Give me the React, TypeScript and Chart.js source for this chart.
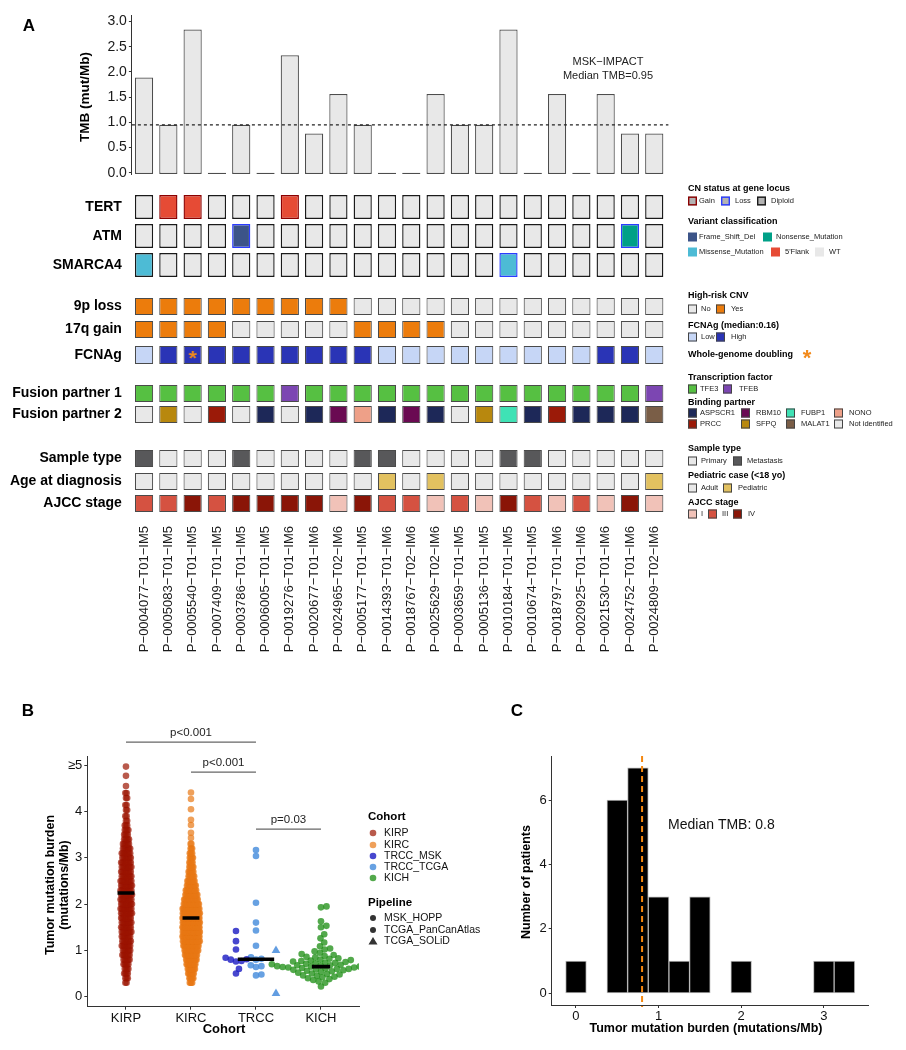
import React, { useEffect, useRef } from "react";
import { Chart, registerables } from "chart.js";

Chart.register(...registerables);
const FONT = "'Liberation Sans', Arial, Helvetica, sans-serif";
Chart.defaults.font.family = FONT;
Chart.defaults.color = "#000";

/* ================= Panel A data ================= */
const SAMPLES = [
  "P-0004077-T01-IM5", "P-0005083-T01-IM5", "P-0005540-T01-IM5", "P-0007409-T01-IM5",
  "P-0003786-T01-IM5", "P-0006005-T01-IM5", "P-0019276-T01-IM6", "P-0020677-T01-IM6",
  "P-0024965-T02-IM6", "P-0005177-T01-IM5", "P-0014393-T01-IM6", "P-0018767-T02-IM6",
  "P-0025629-T02-IM6", "P-0003659-T01-IM5", "P-0005136-T01-IM5", "P-0010184-T01-IM5",
  "P-0010674-T01-IM5", "P-0018797-T01-IM6", "P-0020925-T01-IM6", "P-0021530-T01-IM6",
  "P-0024752-T01-IM6", "P-0024809-T02-IM6",
];
const TMB = [1.89, 0.95, 2.84, 0, 0.95, 0, 2.33, 0.78, 1.56, 0.95, 0, 0, 1.56, 0.95, 0.95, 2.84, 0, 1.56, 0, 1.56, 0.78, 0.78];
const TMB_TICKS = [0, 0.5, 1, 1.5, 2, 2.5, 3];
const TMB_MEDIAN = 0.95;

const TERT_VARIANT = ["WT", "5'Flank", "5'Flank", "WT", "WT", "WT", "5'Flank", "WT", "WT", "WT", "WT", "WT", "WT", "WT", "WT", "WT", "WT", "WT", "WT", "WT", "WT", "WT"];
const TERT_CN = ["Diploid", "Gain", "Gain", "Diploid", "Diploid", "Diploid", "Gain", "Diploid", "Diploid", "Diploid", "Diploid", "Diploid", "Diploid", "Diploid", "Diploid", "Diploid", "Diploid", "Diploid", "Diploid", "Diploid", "Diploid", "Diploid"];
const ATM_VARIANT = ["WT", "WT", "WT", "WT", "Frame_Shift_Del", "WT", "WT", "WT", "WT", "WT", "WT", "WT", "WT", "WT", "WT", "WT", "WT", "WT", "WT", "WT", "Nonsense_Mutation", "WT"];
const ATM_CN = ["Diploid", "Diploid", "Diploid", "Diploid", "Loss", "Diploid", "Diploid", "Diploid", "Diploid", "Diploid", "Diploid", "Diploid", "Diploid", "Diploid", "Diploid", "Diploid", "Diploid", "Diploid", "Diploid", "Diploid", "Loss", "Diploid"];
const SMARCA4_VARIANT = ["Missense_Mutation", "WT", "WT", "WT", "WT", "WT", "WT", "WT", "WT", "WT", "WT", "WT", "WT", "WT", "WT", "Missense_Mutation", "WT", "WT", "WT", "WT", "WT", "WT"];
const SMARCA4_CN = ["Diploid", "Diploid", "Diploid", "Diploid", "Diploid", "Diploid", "Diploid", "Diploid", "Diploid", "Diploid", "Diploid", "Diploid", "Diploid", "Diploid", "Diploid", "Loss", "Diploid", "Diploid", "Diploid", "Diploid", "Diploid", "Diploid"];
const LOSS_9P = ["Yes", "Yes", "Yes", "Yes", "Yes", "Yes", "Yes", "Yes", "Yes", "No", "No", "No", "No", "No", "No", "No", "No", "No", "No", "No", "No", "No"];
const GAIN_17Q = ["Yes", "Yes", "Yes", "Yes", "No", "No", "No", "No", "No", "Yes", "Yes", "Yes", "Yes", "No", "No", "No", "No", "No", "No", "No", "No", "No"];
const FCNAG = ["Low", "High", "High", "High", "High", "High", "High", "High", "High", "High", "Low", "Low", "Low", "Low", "Low", "Low", "Low", "Low", "Low", "High", "High", "Low"];
const WGD = [false, false, true, false, false, false, false, false, false, false, false, false, false, false, false, false, false, false, false, false, false, false];
const FUSION_1 = ["TFE3", "TFE3", "TFE3", "TFE3", "TFE3", "TFE3", "TFEB", "TFE3", "TFE3", "TFE3", "TFE3", "TFE3", "TFE3", "TFE3", "TFE3", "TFE3", "TFE3", "TFE3", "TFE3", "TFE3", "TFE3", "TFEB"];
const FUSION_2 = ["Not identified", "SFPQ", "Not identified", "PRCC", "Not identified", "ASPSCR1", "Not identified", "ASPSCR1", "RBM10", "NONO", "ASPSCR1", "RBM10", "ASPSCR1", "Not identified", "SFPQ", "FUBP1", "ASPSCR1", "PRCC", "ASPSCR1", "ASPSCR1", "ASPSCR1", "MALAT1"];
const SAMPLE_TYPE = ["Metastasis", "Primary", "Primary", "Primary", "Metastasis", "Primary", "Primary", "Primary", "Primary", "Metastasis", "Metastasis", "Primary", "Primary", "Primary", "Primary", "Metastasis", "Metastasis", "Primary", "Primary", "Primary", "Primary", "Primary"];
const AGE_GROUP = ["Adult", "Adult", "Adult", "Adult", "Adult", "Adult", "Adult", "Adult", "Adult", "Adult", "Pediatric", "Adult", "Pediatric", "Adult", "Adult", "Adult", "Adult", "Adult", "Adult", "Adult", "Adult", "Pediatric"];
const AJCC = ["III", "III", "IV", "III", "IV", "IV", "IV", "IV", "I", "IV", "III", "III", "I", "III", "I", "IV", "III", "I", "III", "I", "IV", "I"];

/* colours */
const VARIANT_COLORS: any = { WT: "#e8e8e8", "5'Flank": "#e64b35", Frame_Shift_Del: "#3c5488", Nonsense_Mutation: "#00a087", Missense_Mutation: "#4dbbd5" };
const CN_BORDER: any = { Gain: "#8b0000", Loss: "#2b3cff", Diploid: "#1a1a1a" };
const YESNO_COLORS: any = { No: "#e8e8e8", Yes: "#ec7c0c" };
const FCNAG_COLORS: any = { Low: "#c6d6f6", High: "#2a34b6" };
const TF_COLORS: any = { TFE3: "#56c042", TFEB: "#7c46b2" };
const BP_COLORS: any = { ASPSCR1: "#1d2858", RBM10: "#6a0a52", FUBP1: "#3fe2b5", NONO: "#eea088", PRCC: "#9b1a08", SFPQ: "#b8880e", MALAT1: "#7a5e47", "Not identified": "#e8e8e8" };
const ST_COLORS: any = { Primary: "#e8e8e8", Metastasis: "#58585a" };
const AGE_COLORS: any = { Adult: "#e8e8e8", Pediatric: "#e2c160" };
const AJCC_COLORS: any = { I: "#f1c2b8", III: "#d55241", IV: "#8a1507" };
const CELL_BORDER = "#4a4a4a";

/* row layout (page pixel rows) */
const ROW_Y = [[195, 219], [224, 248], [253, 277], [298, 315], [321, 338], [346, 364], [385, 402], [406, 423], [450, 467], [473, 490], [495, 512]];

/* ================= Panel B data ================= */
const COHORTS = ["KIRP", "KIRC", "TRCC", "KICH"];
const KIRP_LEVELS = [0.3, 0.4, 0.5, 0.6, 0.7, 0.8, 0.9, 1.0, 1.1, 1.2, 1.3, 1.4, 1.5, 1.6, 1.7, 1.8, 1.9, 2.0, 2.1, 2.2, 2.3, 2.4, 2.5, 2.6, 2.7, 2.8, 2.9, 3.0, 3.1, 3.2, 3.3, 3.4, 3.5, 3.6, 3.7, 3.8, 3.9, 4.03, 4.14, 4.29, 4.4, 4.55, 4.77, 4.97];
const KIRP_COUNTS = [2, 3, 4, 4, 5, 6, 7, 7, 8, 8, 8, 9, 9, 9, 9, 10, 10, 10, 10, 10, 10, 10, 10, 9, 9, 9, 9, 8, 8, 7, 6, 5, 4, 4, 3, 2, 2, 2, 2, 2, 2, 1, 1, 1];
const KIRC_LEVELS = [0.3, 0.4, 0.5, 0.6, 0.7, 0.8, 0.9, 1.0, 1.1, 1.2, 1.3, 1.4, 1.5, 1.6, 1.7, 1.8, 1.9, 2.0, 2.1, 2.2, 2.3, 2.4, 2.5, 2.6, 2.7, 2.8, 2.9, 3.0, 3.1, 3.2, 3.3, 3.43, 3.54, 3.71, 3.82, 4.05, 4.27, 4.41];
const KIRC_COUNTS = [4, 6, 8, 10, 12, 14, 16, 18, 20, 22, 24, 25, 26, 26, 25, 24, 22, 20, 18, 16, 14, 12, 10, 8, 7, 6, 5, 5, 4, 3, 2, 1, 1, 1, 1, 1, 1, 1];
const TRCC_MSK = [1.42, 1.2, 1.02, 0.84, 0.81, 0.8, 0.77, 0.76, 0.6, 0.5];
const TRCC_TCGA = [3.17, 3.04, 2.03, 1.6, 1.43, 1.1, 0.85, 0.82, 0.8, 0.68, 0.66, 0.64, 0.48, 0.46];
const TRCC_SOLID = [1.0, 0.07];
const KICH = [1.95, 1.93, 1.63, 1.53, 1.5, 1.35, 1.26, 1.17, 1.09, 1.04, 1.02, 0.98, 0.95, 0.92, 0.9, 0.88, 0.86, 0.85, 0.83, 0.82, 0.8, 0.79, 0.78, 0.77, 0.76, 0.75, 0.74, 0.73, 0.72, 0.71, 0.7, 0.7, 0.69, 0.68, 0.68, 0.67, 0.66, 0.65, 0.65, 0.64, 0.63, 0.63, 0.62, 0.61, 0.6, 0.6, 0.59, 0.58, 0.57, 0.56, 0.55, 0.54, 0.52, 0.5, 0.49, 0.48, 0.46, 0.45, 0.43, 0.42, 0.4, 0.38, 0.36, 0.33, 0.3, 0.22];
const MEDIANS = [2.24, 1.7, 0.81, 0.65];
const B_TICKS = [0, 1, 2, 3, 4, 5];
const BRACKETS = [
  { from: 1, to: 3, y: 5.5, label: "p<0.001" },
  { from: 2, to: 3, y: 4.85, label: "p<0.001" },
  { from: 3, to: 4, y: 3.62, label: "p=0.03" },
];

/* ================= Panel C data ================= */
const HIST_CENTERS = [0, 0.5, 0.75, 1.0, 1.25, 1.5, 2.0, 3.0, 3.25];
const HIST_COUNTS = [1, 6, 7, 3, 1, 3, 1, 1, 1];
const HIST_MEDIAN = 0.8;
const C_XTICKS = [0, 1, 2, 3];
const C_YTICKS = [0, 2, 4, 6];

/* ================= helpers ================= */
function text(ctx: any, s: string, x: number, y: number, font: string, o: any = {}) {
  ctx.save();
  ctx.font = font;
  ctx.fillStyle = o.color || "#000";
  ctx.textAlign = o.align || "center";
  ctx.textBaseline = o.baseline || "middle";
  ctx.translate(x, y);
  if (o.rotate) ctx.rotate(o.rotate);
  ctx.fillText(s, 0, 0);
  ctx.restore();
}
function box(ctx: any, x: number, yc: number, w: number, h: number, fill: string, stroke: string | null, lw = 1) {
  ctx.fillStyle = fill;
  ctx.fillRect(x, yc - h / 2, w, h);
  if (stroke) {
    ctx.strokeStyle = stroke;
    ctx.lineWidth = lw;
    ctx.strokeRect(x + lw / 2, yc - h / 2 + lw / 2, w - lw, h - lw);
  }
}
const minus = (s: string) => s.replace(/-/g, "\u2212");

function asteriskImage(size: number, px: number, color: string) {
  const c = document.createElement("canvas");
  c.width = size; c.height = size;
  const g = c.getContext("2d")!;
  g.fillStyle = color;
  g.font = `bold ${px}px ${FONT}`;
  g.textAlign = "center";
  g.textBaseline = "alphabetic";
  const m = g.measureText("*");
  const asc = m.actualBoundingBoxAscent || px * 0.72;
  const desc = m.actualBoundingBoxDescent || -px * 0.43;
  g.fillText("*", size / 2, size / 2 + (asc - desc) / 2);
  return c;
}

const PX_X_B = 65;
const PX_Y_B = 46.3;
function levelPoints(levels: number[], counts: number[], center: number, wMax: number, gap: number) {
  const pts: any[] = [];
  levels.forEach((v, li) => {
    const n = counts[li];
    const step = n > 1 ? Math.min(gap, (2 * wMax) / (n - 1)) : 0;
    const shift = n > 1 && li % 2 === 1 ? step * 0.5 : 0;
    for (let k = 0; k < n; k++) pts.push({ x: center + ((k - (n - 1) / 2) * step + shift) / PX_X_B, y: v });
  });
  return pts;
}
function swarmPoints(values: number[], center: number, dodgePx: number, minDist: number) {
  const order = values.map((_, i) => i).sort((a, b) => values[a] - values[b]);
  const placed: any[] = [];
  const out: any[] = new Array(values.length);
  const d2 = minDist * minDist;
  for (const i of order) {
    const y = values[i] * PX_Y_B;
    const cands = [0];
    for (const p of placed) {
      const dy = Math.abs(p.y - y);
      if (dy < minDist) {
        const dx = Math.sqrt(d2 - dy * dy);
        cands.push(p.x + dx, p.x - dx);
      }
    }
    cands.sort((a, b) => Math.abs(a) - Math.abs(b));
    let chosen = 0;
    for (const c of cands) {
      if (placed.every((p) => (p.x - c) ** 2 + (p.y - y) ** 2 >= d2 - 1e-6)) { chosen = c; break; }
    }
    placed.push({ x: chosen, y });
    out[i] = { x: center + (dodgePx + chosen) / PX_X_B, y: values[i] };
  }
  return out;
}

/* ================= charts ================= */
function makeTmb(cv: HTMLCanvasElement) {
  return new Chart(cv, {
    type: "bar",
    data: {
      labels: SAMPLES,
      datasets: [{
        data: TMB, backgroundColor: "#e8e8e8", borderColor: "#4d4d4d", borderWidth: 1.2,
        borderSkipped: false, barPercentage: 0.75, categoryPercentage: 1, base: -0.025,
      } as any],
    },
    options: {
      responsive: false, animation: false,
      layout: { padding: { left: 0, top: 15, right: 906 - 666.4, bottom: 185 - 174 } },
      plugins: { legend: { display: false }, tooltip: { enabled: false } },
      scales: {
        x: { display: false, offset: true },
        y: {
          min: -0.025, max: 3.13,
          afterFit: (s: any) => { s.width = 131.9; },
          afterBuildTicks: (s: any) => { s.ticks = TMB_TICKS.map((v) => ({ value: v })); },
          ticks: { callback: (v: any) => Number(v).toFixed(1), font: { size: 14 }, color: "#1a1a1a", padding: 2 },
          grid: { display: true, drawOnChartArea: false, drawTicks: true, tickLength: 3, color: "#333" },
          border: { display: true, color: "#333", width: 1 },
        } as any,
      },
    },
    plugins: [{
      id: "tmbOverlay",
      afterDatasetsDraw(chart: any) {
        const ctx = chart.ctx;
        const y = chart.scales.y.getPixelForValue(TMB_MEDIAN);
        ctx.save();
        ctx.strokeStyle = "#222"; ctx.lineWidth = 1.3; ctx.setLineDash([3, 3]);
        ctx.beginPath(); ctx.moveTo(chart.chartArea.left, y); ctx.lineTo(chart.chartArea.right + 2, y); ctx.stroke();
        ctx.restore();
      },
      afterDraw(chart: any) {
        const ctx = chart.ctx;
        text(ctx, "A", 29, 26, `bold 17px ${FONT}`);
        text(ctx, "TMB (mut/Mb)", 85, 97, `bold 13.5px ${FONT}`, { rotate: -Math.PI / 2 });
        text(ctx, minus("MSK-IMPACT"), 608, 62, `11px ${FONT}`, { color: "#222" });
        text(ctx, `Median TMB=${TMB_MEDIAN}`, 608, 76, `11px ${FONT}`, { color: "#222" });
      },
    }],
  } as any);
}

const LEGEND_A: any[] = [
  { title: "CN status at gene locus", ty: 189, rows: [{ y: 201, items: [["Gain", 688, 699], ["Loss", 721, 735], ["Diploid", 757, 771]] }], fill: () => "#b3b3b3", stroke: (l: string) => CN_BORDER[l], lw: 1.4 },
  { title: "Variant classification", ty: 222, rows: [
    { y: 237, items: [["Frame_Shift_Del", 688, 699], ["Nonsense_Mutation", 763, 776]] },
    { y: 252, items: [["Missense_Mutation", 688, 699], ["5'Flank", 771, 785], ["WT", 815, 829]] },
  ], fill: (l: string) => VARIANT_COLORS[l], stroke: () => null },
  { title: "High-risk CNV", ty: 296, rows: [{ y: 309, items: [["No", 688, 701], ["Yes", 716, 731]] }], fill: (l: string) => YESNO_COLORS[l], stroke: () => "#444" },
  { title: "FCNAg (median:0.16)", ty: 326, rows: [{ y: 337, items: [["Low", 688, 701], ["High", 716, 731]] }], fill: (l: string) => FCNAG_COLORS[l], stroke: () => "#444" },
  { title: "Whole-genome doubling", ty: 355, rows: [], star: 807 },
  { title: "Transcription factor", ty: 378, rows: [{ y: 389, items: [["TFE3", 688, 700], ["TFEB", 723, 739]] }], fill: (l: string) => TF_COLORS[l], stroke: () => "#444" },
  { title: "Binding partner", ty: 403, rows: [
    { y: 413, items: [["ASPSCR1", 688, 700], ["RBM10", 741, 756], ["FUBP1", 786, 801], ["NONO", 834, 849]] },
    { y: 424, items: [["PRCC", 688, 700], ["SFPQ", 741, 756], ["MALAT1", 786, 801], ["Not identified", 834, 849]] },
  ], fill: (l: string) => BP_COLORS[l], stroke: () => "#444" },
  { title: "Sample type", ty: 449, rows: [{ y: 461, items: [["Primary", 688, 701], ["Metastasis", 733, 747]] }], fill: (l: string) => ST_COLORS[l], stroke: () => "#444" },
  { title: "Pediatric case (<18 yo)", ty: 476, rows: [{ y: 488, items: [["Adult", 688, 701], ["Pediatric", 723, 738]] }], fill: (l: string) => AGE_COLORS[l], stroke: () => "#444" },
  { title: "AJCC stage", ty: 503, rows: [{ y: 514, items: [["I", 688, 701], ["III", 708, 722], ["IV", 733, 748]] }], fill: (l: string) => AJCC_COLORS[l], stroke: () => "#444" },
];

const ONCO_TOP = 150; // canvas top (page px); chart area starts at page 180
function makeOnco(cv: HTMLCanvasElement) {
  const T = ONCO_TOP;
  const rows = [
    { label: "TERT", fills: TERT_VARIANT.map((v) => VARIANT_COLORS[v]), borders: TERT_CN.map((c) => CN_BORDER[c]), bw: 1.4 },
    { label: "ATM", fills: ATM_VARIANT.map((v) => VARIANT_COLORS[v]), borders: ATM_CN.map((c) => CN_BORDER[c]), bw: 1.4 },
    { label: "SMARCA4", fills: SMARCA4_VARIANT.map((v) => VARIANT_COLORS[v]), borders: SMARCA4_CN.map((c) => CN_BORDER[c]), bw: 1.4 },
    { label: "9p loss", fills: LOSS_9P.map((v) => YESNO_COLORS[v]) },
    { label: "17q gain", fills: GAIN_17Q.map((v) => YESNO_COLORS[v]) },
    { label: "FCNAg", fills: FCNAG.map((v) => FCNAG_COLORS[v]) },
    { label: "Fusion partner 1", fills: FUSION_1.map((v) => TF_COLORS[v]) },
    { label: "Fusion partner 2", fills: FUSION_2.map((v) => BP_COLORS[v]) },
    { label: "Sample type", fills: SAMPLE_TYPE.map((v) => ST_COLORS[v]) },
    { label: "Age at diagnosis", fills: AGE_GROUP.map((v) => AGE_COLORS[v]) },
    { label: "AJCC stage", fills: AJCC.map((v) => AJCC_COLORS[v]) },
  ];
  const centers = ROW_Y.map((r) => (r[0] + r[1]) / 2);
  const datasets: any[] = rows.map((r, i) => ({
    type: "bar",
    label: r.label,
    data: SAMPLES.map(() => [ROW_Y[i][0], ROW_Y[i][1]]),
    backgroundColor: r.fills,
    borderColor: (r as any).borders || CELL_BORDER,
    borderWidth: (r as any).bw || 1.1,
    borderSkipped: false,
    barPercentage: 0.75, categoryPercentage: 1, grouped: false,
  }));
  datasets.push({
    type: "scatter",
    label: "WGD",
    data: SAMPLES.map((s, i) => (WGD[i] ? { x: s, y: centers[5] } : null)).filter((d) => d),
    pointStyle: asteriskImage(20, 21, "#f28a1b"),
    order: -1,
  });
  return new Chart(cv, {
    type: "bar",
    data: { labels: SAMPLES, datasets },
    options: {
      responsive: false, animation: false,
      layout: { padding: { left: 0, top: 180 - T, right: 906 - 666.4, bottom: 0 } },
      plugins: { legend: { display: false }, tooltip: { enabled: false } },
      scales: {
        x: {
          type: "category", offset: true,
          grid: { display: false, drawTicks: false },
          border: { display: false },
          afterFit: (s: any) => { s.height = 150; },
          ticks: {
            autoSkip: false, minRotation: 90, maxRotation: 90, padding: 6,
            font: { size: 13 }, color: "#1a1a1a",
            callback: (_v: any, i: number) => minus(SAMPLES[i]),
          },
        },
        y: {
          min: 180, max: 520, reverse: true,
          afterFit: (s: any) => { s.width = 131.9; },
          afterBuildTicks: (s: any) => { s.ticks = centers.map((v) => ({ value: v })); },
          grid: { display: false, drawTicks: false },
          border: { display: false },
          ticks: {
            autoSkip: false, padding: 10, font: { size: 14, weight: "bold" }, color: "#000",
            callback: (_v: any, i: number) => rows[i].label,
          },
        } as any,
      },
    },
    plugins: [{
      id: "oncoLegend",
      afterDraw(chart: any) {
        const ctx = chart.ctx;
        LEGEND_A.forEach((g) => {
          text(ctx, g.title, 688, g.ty - T, `bold 9px ${FONT}`, { align: "left" });
          if (g.star) {
            ctx.drawImage(asteriskImage(20, 22, "#f28a1b"), g.star - 10, g.ty - T - 11);
          }
          g.rows.forEach((r: any) => {
            r.items.forEach((it: any) => {
              const [label, bx, tx] = it;
              box(ctx, bx, r.y - T, 9, 9, g.fill(label), g.stroke(label), g.lw || 1);
              text(ctx, label, tx, r.y - T, `7.5px ${FONT}`, { align: "left", color: "#222" });
            });
          });
        });
      },
    }],
  } as any);
}

function makeSwarm(cv: HTMLCanvasElement) {
  const T = 680;
  const pt = { pointRadius: 3.3, pointBorderWidth: 0, pointHoverRadius: 3.3 };
  const medHalf = [0.13, 0.13, 0.28, 0.14];
  const datasets: any[] = [
    { label: "KIRP", data: levelPoints(KIRP_LEVELS, KIRP_COUNTS, 1, 5.5, 1.2), backgroundColor: "rgba(155,20,0,0.7)", ...pt },
    { label: "KIRC", data: levelPoints(KIRC_LEVELS, KIRC_COUNTS, 2, 8.5, 0.8), backgroundColor: "rgba(232,120,20,0.7)", ...pt },
    { label: "TRCC_MSK", data: swarmPoints(TRCC_MSK, 3, -20, 5.5), backgroundColor: "rgba(30,30,195,0.82)", ...pt },
    { label: "TRCC_TCGA", data: swarmPoints(TRCC_TCGA, 3, 0, 5.5), backgroundColor: "rgba(70,140,220,0.82)", ...pt },
    { label: "TRCC_TCGA_SOLiD", data: swarmPoints(TRCC_SOLID, 3, 20, 5.5), backgroundColor: "rgba(70,140,220,0.85)", pointStyle: "triangle", pointRadius: 5, pointBorderWidth: 0 },
    { label: "KICH", data: swarmPoints(KICH, 4, 0, 5.6), backgroundColor: "rgba(35,145,25,0.78)", ...pt },
  ];
  MEDIANS.forEach((m, i) => {
    datasets.push({
      type: "line", label: "median" + i, order: -1,
      data: [{ x: i + 1 - medHalf[i], y: m }, { x: i + 1 + medHalf[i], y: m }],
      borderColor: "#000", borderWidth: 3.6, pointRadius: 0, borderCapStyle: "butt",
    });
  });
  return new Chart(cv, {
    type: "scatter",
    data: { datasets },
    options: {
      responsive: false, animation: false,
      layout: { padding: { left: 87.3 - 40, top: 756 - T, right: 480 - 359, bottom: 370 - (1006.7 - T) - 20 } },
      plugins: { legend: { display: false }, tooltip: { enabled: false } },
      scales: {
        x: {
          type: "linear", min: 0.405, max: 4.585,
          afterFit: (s: any) => { s.height = 20; },
          afterBuildTicks: (s: any) => { s.ticks = [1, 2, 3, 4].map((v) => ({ value: v })); },
          ticks: { autoSkip: false, maxRotation: 0, padding: 1, font: { size: 13 }, color: "#111", callback: (v: any) => COHORTS[Number(v) - 1] },
          grid: { display: true, drawOnChartArea: false, drawTicks: true, tickLength: 3, color: "#333" },
          border: { display: true, color: "#333", width: 1 },
        },
        y: {
          min: -0.216, max: 5.199,
          afterFit: (s: any) => { s.width = 40; },
          afterBuildTicks: (s: any) => { s.ticks = B_TICKS.map((v) => ({ value: v })); },
          ticks: { padding: 2, font: { size: 13 }, color: "#111", callback: (v: any) => (Number(v) === 5 ? "\u22655" : String(v)) },
          grid: { display: true, drawOnChartArea: false, drawTicks: true, tickLength: 3, color: "#333" },
          border: { display: true, color: "#333", width: 1 },
        },
      },
    },
    plugins: [{
      id: "swarmOverlay",
      afterDraw(chart: any) {
        const ctx = chart.ctx;
        const xs = chart.scales.x, ys = chart.scales.y;
        text(ctx, "B", 28, 711 - T, `bold 17px ${FONT}`);
        text(ctx, "Tumor mutation burden", 51, 885 - T, `bold 12.5px ${FONT}`, { rotate: -Math.PI / 2 });
        text(ctx, "(mutations/Mb)", 64.5, 885 - T, `bold 12.5px ${FONT}`, { rotate: -Math.PI / 2 });
        text(ctx, "Cohort", 224, 1029 - T, `bold 13px ${FONT}`);
        BRACKETS.forEach((b) => {
          const x0 = xs.getPixelForValue(b.from), x1 = xs.getPixelForValue(b.to), y = ys.getPixelForValue(b.y);
          ctx.save();
          ctx.strokeStyle = "#666"; ctx.lineWidth = 1.3;
          ctx.beginPath(); ctx.moveTo(x0, y); ctx.lineTo(x1, y); ctx.stroke();
          ctx.restore();
          text(ctx, b.label, (x0 + x1) / 2, y - 9, `11.5px ${FONT}`, { color: "#222" });
        });
        text(ctx, "Cohort", 368, 817 - T, `bold 11.5px ${FONT}`, { align: "left" });
        const cohortLegend = [["KIRP", "rgba(155,20,0,0.7)"], ["KIRC", "rgba(232,120,20,0.7)"], ["TRCC_MSK", "rgba(30,30,195,0.82)"], ["TRCC_TCGA", "rgba(70,140,220,0.82)"], ["KICH", "rgba(35,145,25,0.78)"]];
        const cy = [833, 845, 856, 867, 878];
        cohortLegend.forEach((c, i) => {
          ctx.fillStyle = c[1];
          ctx.beginPath(); ctx.arc(373, cy[i] - T, 3.3, 0, Math.PI * 2); ctx.fill();
          text(ctx, c[0], 384, cy[i] - T, `10.5px ${FONT}`, { align: "left", color: "#111" });
        });
        text(ctx, "Pipeline", 368, 903 - T, `bold 11.5px ${FONT}`, { align: "left" });
        const py = [918, 930, 941];
        ["MSK_HOPP", "TCGA_PanCanAtlas", "TCGA_SOLiD"].forEach((l, i) => {
          ctx.fillStyle = "#333";
          if (i < 2) { ctx.beginPath(); ctx.arc(373, py[i] - T, 3, 0, Math.PI * 2); ctx.fill(); }
          else { ctx.beginPath(); ctx.moveTo(373, py[i] - T - 4); ctx.lineTo(377.5, py[i] - T + 3.5); ctx.lineTo(368.5, py[i] - T + 3.5); ctx.closePath(); ctx.fill(); }
          text(ctx, l, 384, py[i] - T, `10.5px ${FONT}`, { align: "left", color: "#111" });
        });
      },
    }],
  } as any);
}

function makeHist(cv: HTMLCanvasElement) {
  const L = 450, T = 680;
  return new Chart(cv, {
    type: "bar",
    data: {
      datasets: [{
        data: HIST_CENTERS.map((c, i) => ({ x: c, y: HIST_COUNTS[i] })),
        backgroundColor: "#000", borderColor: "#b5b5b5", borderWidth: 1, borderSkipped: false,
        barPercentage: 1, categoryPercentage: 1,
      }],
    },
    options: {
      responsive: false, animation: false,
      layout: { padding: { left: 551.7 - L - 30, top: 756 - T, right: 906 - 868, bottom: 370 - (1005 - T) - 20 } },
      plugins: { legend: { display: false }, tooltip: { enabled: false } },
      scales: {
        x: {
          type: "linear", min: -0.294, max: 3.535, offset: false,
          afterFit: (s: any) => { s.height = 20; },
          afterBuildTicks: (s: any) => { s.ticks = C_XTICKS.map((v) => ({ value: v })); },
          ticks: { autoSkip: false, maxRotation: 0, padding: 1, font: { size: 13 }, color: "#111" },
          grid: { display: true, offset: false, drawOnChartArea: false, drawTicks: true, tickLength: 3, color: "#333" },
          border: { display: true, color: "#333", width: 1 },
        },
        y: {
          min: -0.363, max: 7.37,
          afterFit: (s: any) => { s.width = 30; },
          afterBuildTicks: (s: any) => { s.ticks = C_YTICKS.map((v) => ({ value: v })); },
          ticks: { padding: 2, font: { size: 13 }, color: "#111" },
          grid: { display: true, drawOnChartArea: false, drawTicks: true, tickLength: 3, color: "#333" },
          border: { display: true, color: "#333", width: 1 },
        },
      },
    },
    plugins: [{
      id: "histOverlay",
      afterDatasetsDraw(chart: any) {
        const ctx = chart.ctx;
        const x = chart.scales.x.getPixelForValue(HIST_MEDIAN);
        ctx.save();
        ctx.strokeStyle = "#f5870f"; ctx.lineWidth = 2; ctx.setLineDash([6, 4]);
        ctx.beginPath(); ctx.moveTo(x, chart.chartArea.top); ctx.lineTo(x, chart.chartArea.bottom + 2); ctx.stroke();
        ctx.restore();
      },
      afterDraw(chart: any) {
        const ctx = chart.ctx;
        const xs = chart.scales.x, ys = chart.scales.y;
        text(ctx, "C", 517 - L, 711 - T, `bold 17px ${FONT}`);
        text(ctx, `Median TMB: ${HIST_MEDIAN}`, xs.getPixelForValue(1.76), ys.getPixelForValue(5.22), `14px ${FONT}`, { color: "#111" });
        text(ctx, "Number of patients", 527 - L, 882 - T, `bold 12.5px ${FONT}`, { rotate: -Math.PI / 2 });
        text(ctx, "Tumor mutation burden (mutations/Mb)", 706 - L, 1029 - T, `bold 12.5px ${FONT}`);
      },
    }],
  } as any);
}

export default function App() {
  const r1 = useRef<HTMLCanvasElement>(null);
  const r2 = useRef<HTMLCanvasElement>(null);
  const r3 = useRef<HTMLCanvasElement>(null);
  const r4 = useRef<HTMLCanvasElement>(null);
  useEffect(() => {
    const charts = [makeTmb(r1.current!), makeOnco(r2.current!), makeSwarm(r3.current!), makeHist(r4.current!)];
    return () => charts.forEach((c) => c.destroy());
  }, []);
  const abs = (l: number, t: number, w: number, h: number): any => ({ position: "absolute", left: l, top: t, width: w, height: h });
  return (
    <div style={{ position: "absolute", left: 0, top: 0, width: 906, height: 1050, background: "#fff", overflow: "hidden" }}>
      <canvas ref={r1} width={906} height={185} style={abs(0, 0, 906, 185)} />
      <canvas ref={r2} width={906} height={670 - ONCO_TOP} style={abs(0, ONCO_TOP, 906, 670 - ONCO_TOP)} />
      <canvas ref={r3} width={480} height={370} style={abs(0, 680, 480, 370)} />
      <canvas ref={r4} width={456} height={370} style={abs(450, 680, 456, 370)} />
    </div>
  );
}
